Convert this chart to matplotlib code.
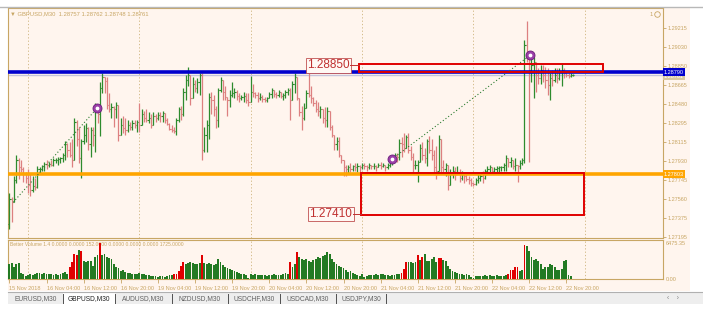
import matplotlib
matplotlib.use("Agg")
import matplotlib.pyplot as plt
import matplotlib.transforms as mtransforms
from matplotlib.patches import Rectangle
import numpy as np

# GBPUSD M30, 15 Nov 20:00 .. 22 Nov 21:30 (one entry per bar)
highs = [1.2762, 1.2758, 1.2778, 1.2799, 1.2796, 1.2794, 1.2787, 1.2782, 1.2785, 1.2780,
         1.2778, 1.2777, 1.2788, 1.2787, 1.2789, 1.2792, 1.2794, 1.2792, 1.2794, 1.2796,
         1.2796, 1.2797, 1.2797, 1.2801, 1.2812, 1.2810, 1.2811, 1.2814, 1.2835, 1.2833,
         1.2826, 1.2814, 1.2828, 1.2830, 1.2826, 1.2826, 1.2826, 1.2849, 1.2846, 1.2869,
         1.2878, 1.2874, 1.2874, 1.2859, 1.2849, 1.2846, 1.2850, 1.2847, 1.2835, 1.2836,
         1.2835, 1.2833, 1.2831, 1.2833, 1.2833, 1.2833, 1.2849, 1.2843, 1.2841, 1.2843,
         1.2840, 1.2838, 1.2840, 1.2838, 1.2840, 1.2840, 1.2841, 1.2839, 1.2835, 1.2830,
         1.2828, 1.2826, 1.2835, 1.2845, 1.2846, 1.2864, 1.2876, 1.2884, 1.2876, 1.2874,
         1.2871, 1.2873, 1.2878, 1.2878, 1.2826, 1.2833, 1.2859, 1.2860, 1.2857, 1.2846,
         1.2864, 1.2874, 1.2871, 1.2865, 1.2855, 1.2862, 1.2869, 1.2864, 1.2862, 1.2859,
         1.2857, 1.2860, 1.2859, 1.2859, 1.2875, 1.2867, 1.2860, 1.2860, 1.2859, 1.2857,
         1.2855, 1.2855, 1.2860, 1.2864, 1.2862, 1.2860, 1.2862, 1.2860, 1.2859, 1.2862,
         1.2864, 1.2864, 1.2870, 1.2878, 1.2874, 1.2854, 1.2846, 1.2849, 1.2862, 1.2878,
         1.2865, 1.2855, 1.2852, 1.2850, 1.2846, 1.2843, 1.2845, 1.2845, 1.2841, 1.2828,
         1.2818, 1.2816, 1.2816, 1.2799, 1.2794, 1.2789, 1.2789, 1.2791, 1.2789, 1.2791,
         1.2791, 1.2789, 1.2791, 1.2791, 1.2789, 1.2791, 1.2789, 1.2791, 1.2789, 1.2791,
         1.2792, 1.2791, 1.2789, 1.2791, 1.2794, 1.2796, 1.2801, 1.2801, 1.2814, 1.2816,
         1.2820, 1.2818, 1.2820, 1.2807, 1.2801, 1.2794, 1.2794, 1.2809, 1.2811, 1.2806,
         1.2814, 1.2817, 1.2814, 1.2804, 1.2807, 1.2818, 1.2814, 1.2794, 1.2791, 1.2789,
         1.2785, 1.2788, 1.2787, 1.2788, 1.2785, 1.2783, 1.2780, 1.2780, 1.2778, 1.2777,
         1.2773, 1.2777, 1.2780, 1.2780, 1.2783, 1.2785, 1.2788, 1.2789, 1.2787, 1.2787,
         1.2788, 1.2788, 1.2788, 1.2791, 1.2799, 1.2796, 1.2797, 1.2794, 1.2796, 1.2789,
         1.2794, 1.2796, 1.2910, 1.2928, 1.2896, 1.2896, 1.2894, 1.2889, 1.2883, 1.2886,
         1.2886, 1.2884, 1.2883, 1.2878, 1.2881, 1.2883, 1.2883, 1.2883, 1.2888, 1.2883,
         1.2879, 1.2878, 1.2878, 1.2877]
lows = [1.2727, 1.2734, 1.2753, 1.2772, 1.2776, 1.2782, 1.2773, 1.2772, 1.2762, 1.2759,
        1.2763, 1.2765, 1.2767, 1.2780, 1.2783, 1.2783, 1.2785, 1.2787, 1.2788, 1.2788,
        1.2791, 1.2789, 1.2791, 1.2792, 1.2794, 1.2797, 1.2797, 1.2787, 1.2794, 1.2807,
        1.2791, 1.2777, 1.2809, 1.2811, 1.2804, 1.2797, 1.2807, 1.2802, 1.2830, 1.2817,
        1.2859, 1.2859, 1.2843, 1.2840, 1.2835, 1.2826, 1.2835, 1.2812, 1.2818, 1.2820,
        1.2818, 1.2821, 1.2823, 1.2823, 1.2825, 1.2821, 1.2821, 1.2828, 1.2831, 1.2831,
        1.2830, 1.2825, 1.2828, 1.2831, 1.2833, 1.2831, 1.2831, 1.2830, 1.2828, 1.2823,
        1.2821, 1.2820, 1.2818, 1.2831, 1.2833, 1.2836, 1.2852, 1.2865, 1.2847, 1.2854,
        1.2860, 1.2859, 1.2857, 1.2794, 1.2802, 1.2802, 1.2814, 1.2838, 1.2836, 1.2825,
        1.2826, 1.2860, 1.2852, 1.2852, 1.2836, 1.2845, 1.2855, 1.2854, 1.2852, 1.2850,
        1.2852, 1.2850, 1.2849, 1.2846, 1.2850, 1.2855, 1.2854, 1.2850, 1.2852, 1.2850,
        1.2850, 1.2850, 1.2854, 1.2854, 1.2855, 1.2854, 1.2855, 1.2854, 1.2852, 1.2854,
        1.2857, 1.2833, 1.2852, 1.2859, 1.2852, 1.2836, 1.2823, 1.2833, 1.2844, 1.2855,
        1.2849, 1.2846, 1.2840, 1.2836, 1.2835, 1.2830, 1.2826, 1.2826, 1.2823, 1.2816,
        1.2804, 1.2804, 1.2797, 1.2791, 1.2778, 1.2778, 1.2780, 1.2782, 1.2783, 1.2783,
        1.2782, 1.2782, 1.2785, 1.2785, 1.2783, 1.2785, 1.2785, 1.2785, 1.2783, 1.2787,
        1.2785, 1.2787, 1.2783, 1.2785, 1.2787, 1.2789, 1.2794, 1.2792, 1.2794, 1.2797,
        1.2802, 1.2806, 1.2801, 1.2794, 1.2782, 1.2785, 1.2773, 1.2792, 1.2794, 1.2791,
        1.2788, 1.2801, 1.2794, 1.2782, 1.2776, 1.2783, 1.2782, 1.2780, 1.2778, 1.2765,
        1.2770, 1.2777, 1.2775, 1.2780, 1.2773, 1.2775, 1.2772, 1.2774, 1.2771, 1.2769,
        1.2769, 1.2770, 1.2772, 1.2774, 1.2772, 1.2776, 1.2780, 1.2782, 1.2780, 1.2780,
        1.2782, 1.2782, 1.2783, 1.2783, 1.2783, 1.2787, 1.2787, 1.2785, 1.2783, 1.2773,
        1.2785, 1.2789, 1.2791, 1.2889, 1.2792, 1.2869, 1.2854, 1.2860, 1.2867, 1.2867,
        1.2869, 1.2864, 1.2857, 1.2852, 1.2865, 1.2869, 1.2868, 1.2871, 1.2865, 1.2873,
        1.2874, 1.2873, 1.2874, 1.2875]
closes = [1.2756, 1.2753, 1.2775, 1.2794, 1.2787, 1.2785, 1.2780, 1.2777, 1.2770, 1.2765,
          1.2769, 1.2768, 1.2785, 1.2785, 1.2788, 1.2790, 1.2789, 1.2790, 1.2789, 1.2794,
          1.2794, 1.2795, 1.2796, 1.2799, 1.2809, 1.2804, 1.2799, 1.2794, 1.2831, 1.2814,
          1.2796, 1.2812, 1.2818, 1.2825, 1.2809, 1.2823, 1.2818, 1.2845, 1.2838, 1.2864,
          1.2874, 1.2870, 1.2847, 1.2843, 1.2845, 1.2843, 1.2847, 1.2818, 1.2828, 1.2825,
          1.2823, 1.2828, 1.2826, 1.2830, 1.2828, 1.2831, 1.2828, 1.2838, 1.2835, 1.2833,
          1.2835, 1.2828, 1.2836, 1.2835, 1.2837, 1.2836, 1.2839, 1.2833, 1.2829, 1.2824,
          1.2823, 1.2822, 1.2833, 1.2843, 1.2838, 1.2860, 1.2871, 1.2876, 1.2854, 1.2867,
          1.2864, 1.2869, 1.2876, 1.2804, 1.2818, 1.2828, 1.2855, 1.2852, 1.2843, 1.2833,
          1.2862, 1.2871, 1.2860, 1.2855, 1.2852, 1.2857, 1.2859, 1.2860, 1.2856, 1.2854,
          1.2855, 1.2856, 1.2852, 1.2850, 1.2860, 1.2859, 1.2857, 1.2854, 1.2855, 1.2853,
          1.2852, 1.2854, 1.2858, 1.2862, 1.2858, 1.2857, 1.2860, 1.2856, 1.2857, 1.2860,
          1.2862, 1.2852, 1.2867, 1.2874, 1.2854, 1.2840, 1.2835, 1.2844, 1.2859, 1.2857,
          1.2854, 1.2849, 1.2843, 1.2841, 1.2843, 1.2835, 1.2833, 1.2841, 1.2826, 1.2818,
          1.2809, 1.2812, 1.2799, 1.2794, 1.2787, 1.2785, 1.2787, 1.2785, 1.2788, 1.2787,
          1.2788, 1.2787, 1.2789, 1.2788, 1.2787, 1.2789, 1.2788, 1.2788, 1.2787, 1.2789,
          1.2788, 1.2789, 1.2787, 1.2789, 1.2792, 1.2794, 1.2799, 1.2797, 1.2810, 1.2809,
          1.2806, 1.2816, 1.2804, 1.2797, 1.2789, 1.2789, 1.2792, 1.2806, 1.2799, 1.2796,
          1.2812, 1.2804, 1.2799, 1.2787, 1.2783, 1.2814, 1.2787, 1.2785, 1.2789, 1.2770,
          1.2780, 1.2783, 1.2780, 1.2782, 1.2777, 1.2780, 1.2778, 1.2776, 1.2775, 1.2772,
          1.2771, 1.2775, 1.2777, 1.2778, 1.2777, 1.2783, 1.2785, 1.2787, 1.2783, 1.2785,
          1.2786, 1.2787, 1.2787, 1.2789, 1.2796, 1.2792, 1.2794, 1.2788, 1.2789, 1.2788,
          1.2791, 1.2794, 1.2905, 1.2896, 1.2881, 1.2886, 1.2889, 1.2876, 1.2873, 1.2881,
          1.2876, 1.2871, 1.2866, 1.2873, 1.2871, 1.2876, 1.2873, 1.2879, 1.2881, 1.2878,
          1.2876, 1.2875, 1.2876, 1.2876]
first_open = 1.2732

volumes = [2720, 2900, 2220, 2720, 2830, 1170, 870, 560, 680, 870,
           740, 980, 1050, 1110, 980, 1050, 980, 870, 980, 800,
           870, 680, 870, 1050, 1350, 980, 2090, 3020, 4570, 4260,
           5180, 5000, 3200, 3020, 3330, 3200, 2410, 3940, 4260, 6475,
           4260, 4570, 3940, 3830, 3640, 2720, 2220, 1980, 1480, 1610,
           1350, 1170, 1050, 980, 870, 870, 1170, 870, 980, 680,
           740, 610, 560, 610, 430, 560, 610, 430, 610, 680,
           800, 870, 980, 1480, 2410, 3020, 2720, 2900, 3020, 2830,
           2720, 2720, 2830, 4260, 2830, 2720, 2900, 2720, 2530, 2720,
           3640, 3020, 2530, 2220, 1980, 1790, 1610, 1480, 1350, 1170,
           980, 870, 680, 130, 980, 680, 870, 740, 800, 680,
           740, 610, 740, 680, 870, 680, 740, 680, 870, 1170,
           980, 3020, 2220, 2720, 4870, 3940, 3640, 3460, 3640, 3330,
           3020, 3460, 3640, 3940, 3830, 4070, 4260, 4870, 4440, 3640,
           3020, 2720, 2410, 2090, 1980, 1610, 1350, 1480, 1170, 870,
           680, 560, 870, 310, 560, 680, 740, 740, 870, 680,
           980, 870, 740, 680, 560, 680, 680, 870, 980, 1170,
           1790, 3020, 3020, 3150, 2900, 3020, 4260, 3460, 3940, 4440,
           3330, 3200, 3640, 3940, 3020, 3830, 3830, 3460, 3200, 2410,
           1790, 1480, 1350, 1170, 980, 870, 740, 870, 680, 370,
           240, 560, 610, 560, 610, 680, 610, 680, 560, 610,
           680, 560, 610, 560, 680, 870, 1610, 1610, 2090, 2220,
           1480, 1610, 6100, 5920, 5050, 3940, 3460, 3640, 3330, 2720,
           1790, 2090, 2220, 2720, 2530, 2090, 1610, 1610, 1790, 3330,
           3460, 680, 560, 60]
climax_bars = [26, 27, 28, 29, 31, 39, 71, 72, 73, 74, 75, 83, 121, 124,
               169, 170, 171, 176, 178, 185, 186, 215, 216, 217, 218, 219, 222]

price_ticks = [1.29215, 1.29030, 1.28850, 1.28665, 1.28480, 1.28295,
               1.28115, 1.27930, 1.27745, 1.27560, 1.27375, 1.27195]
time_pos = [0, 16, 32, 48, 64, 80, 96, 112, 128, 144, 160, 176, 192, 208, 224, 240]
time_labels = ["15 Nov 2018", "16 Nov 04:00", "16 Nov 12:00", "16 Nov 20:00",
               "19 Nov 04:00", "19 Nov 12:00", "19 Nov 20:00", "20 Nov 04:00",
               "20 Nov 12:00", "20 Nov 20:00", "21 Nov 04:00", "21 Nov 12:00",
               "21 Nov 20:00", "22 Nov 04:00", "22 Nov 12:00", "22 Nov 20:00"]
day_starts = [8, 56, 104, 152, 200, 248]

resistance = 1.28790
support = 1.27803
bid = 1.28761
zone_top = [150.7, 255.9, 1.28790, 1.28870]     # bar from, bar to, low, high
zone_bottom = [151.7, 247.8, 1.27410, 1.27815]
level_labels = ["1.28850", "1.27410"]
level_label_pos = [(137.5, 1.28857), (138.6, 1.27417)]
arrow_bars = [37.8, 165.0, 224.3]
arrow_prices = [1.2844, 1.2795, 1.2895]
trend1 = ([1.6, 37.8], [1.2753, 1.2844])
trend2 = ([165.0, 224.3], [1.2795, 1.2895])

tabs = ["EURUSD,M30", "GBPUSD,M30", "AUDUSD,M30", "NZDUSD,M30",
        "USDCHF,M30", "USDCAD,M30", "USDJPY,M30"]

W, H = 703, 316
TAN = '#c8a664'
BG = '#fff5ee'


def fx(x):
    return x / W


def fy(y):
    return 1 - y / H


plt.rcParams['font.family'] = ['Liberation Sans', 'DejaVu Sans']
fig = plt.figure(figsize=(W / 100, H / 100), dpi=100)
fig.patch.set_facecolor('white')
fig.patches.append(Rectangle((fx(8), fy(291)), fx(682), 284 / H, transform=fig.transFigure,
                             facecolor=BG, edgecolor='none', zorder=-10))
fig.add_artist(plt.Line2D([0, 1], [fy(7), fy(7)], color='#b8b8b8', lw=1.0))

ax = fig.add_axes([fx(8), fy(238), fx(655), 230 / H])
axv = fig.add_axes([fx(8), fy(279), fx(655), 39 / H], sharex=ax)
for a in (ax, axv):
    a.set_facecolor(BG)
    for s in a.spines.values():
        s.set_color(TAN)
        s.set_linewidth(0.8)
    for d in day_starts:
        a.axvline(d, color='#cdb27a', lw=0.6, ls=(0, (1.5, 2.5)), zorder=1)

idx = np.arange(len(closes))
opens = [first_open] + closes[:-1]
cols = ['#2e8b2e' if c >= o else '#dd8080' for o, c in zip(opens, closes)]
ax.vlines(idx, lows, highs, colors=cols, lw=0.9, zorder=3)
ax.hlines(opens, idx - 0.5, idx, colors=cols, lw=0.8, zorder=3)
ax.hlines(closes, idx, idx + 0.5, colors=cols, lw=0.8, zorder=3)

ax.axhline(bid, color='#c4c4dc', lw=1.0, zorder=2)
ax.axhline(resistance, color='#0000cd', lw=2.6, zorder=4)
ax.axhline(support, color='#ffa500', lw=2.6, zorder=4)

for x0, x1, lo, hi in (zone_top, zone_bottom):
    ax.add_patch(Rectangle((x0, lo), x1 - x0, hi - lo, fill=False,
                           edgecolor='#e00000', lw=1.4, zorder=5))
for txt, (tx, ty), x0 in zip(level_labels, level_label_pos, (zone_top[0], zone_bottom[0])):
    ax.text(tx, ty, txt, fontsize=8.5, color='#c03030', ha='center', va='center', zorder=6,
            bbox=dict(boxstyle='square,pad=0.12', fc='#fff8f4', ec='#c05050', lw=0.6))
    ax.plot([tx + 9.3, x0], [ty, ty], color='#c03030', lw=0.7, zorder=6)

ax.plot(*trend1, color='#2e7d32', lw=0.8, ls=(0, (1, 2)), zorder=4)
ax.plot(*trend2, color='#2e7d32', lw=0.8, ls=(0, (1, 2)), zorder=4)
ax.scatter(arrow_bars, arrow_prices, s=42, color='#9b3fa8', edgecolors='#6a1b7a',
           linewidths=0.6, zorder=7)
ax.scatter(arrow_bars, arrow_prices, s=3, color='white', zorder=8)

ax.set_xlim(-0.6, 281.7)
ax.set_ylim(1.27185, 1.29409)
ax.yaxis.tick_right()
ax.set_yticks(price_ticks)
ax.set_yticklabels([f"{p:.5f}" for p in price_ticks])
ax.tick_params(axis='y', labelsize=4, colors=TAN, length=2, width=0.6, pad=1.5)
ax.tick_params(axis='x', bottom=False, labelbottom=False)

blend = mtransforms.blended_transform_factory(ax.transAxes, ax.transData)
for val, fc, dy in ((bid, '#d8c8a0', -0.00012), (resistance, '#0000cd', 0), (support, '#ffa500', 0)):
    ax.text(1.0015, val + dy, f"{val:.5f}", transform=blend, fontsize=4, color='white',
            va='center', ha='left', zorder=9, clip_on=False,
            bbox=dict(boxstyle='square,pad=0.2', fc=fc, ec='none'))

vcols = ['#e00000' if i in climax_bars else '#237a23' for i in idx]
axv.bar(idx, volumes, width=0.8, color=vcols, edgecolor='none', zorder=3)
axv.set_ylim(0, 7020)
axv.yaxis.tick_right()
axv.set_yticks([6475.35, 0])
axv.set_yticklabels(["6475.35", "0.00"])
axv.tick_params(axis='y', labelsize=4, colors=TAN, length=0, pad=2)
axv.set_xticks(time_pos)
axv.set_xticklabels(time_labels, ha='left')
axv.tick_params(axis='x', labelsize=4, colors=TAN, length=3, width=0.6, pad=2)

fig.text(fx(10), fy(14), "\u25bc GBPUSD,M30  1.28757 1.28762 1.28748 1.28761",
         fontsize=4.2, color=TAN, va='center')
axv.text(0.003, 0.88, "Better Volume 1.4 0.0000 0.0000 152.0000 0.0000 0.0000 0.0000 1725.0000",
         transform=axv.transAxes, fontsize=3.6, color=TAN, va='center', zorder=2)
fig.text(fx(650), fy(14), "1", fontsize=4.2, color=TAN, va='center')
fig.add_artist(plt.Line2D([fx(657)], [fy(14)], marker='o', ms=4, mfc='none', mec=TAN, mew=0.6))

# symbol tabs
fig.patches.append(Rectangle((fx(8), fy(304)), fx(695), 11 / H, transform=fig.transFigure,
                             facecolor='#eeeeee', edgecolor='none', zorder=-5))
fig.add_artist(plt.Line2D([fx(8), 1], [fy(292), fy(292)], color='#b0b0b0', lw=0.8))
tab_x = [8, 63, 115, 172, 228, 280, 336, 386]
fig.patches.append(Rectangle((fx(63), fy(304)), fx(52), 11 / H, transform=fig.transFigure,
                             facecolor='white', edgecolor='none', zorder=-4))
for k, name in enumerate(tabs):
    fig.text(fx((tab_x[k] + tab_x[k + 1]) / 2), fy(298.5), name, fontsize=4.8,
             color='#202020' if k == 1 else '#606060', ha='center', va='center')
for sx in tab_x[1:]:
    fig.add_artist(plt.Line2D([fx(sx), fx(sx)], [fy(294), fy(303)], color='#505050', lw=0.7))
fig.text(fx(667), fy(298.5), "\u2039    \u203a", fontsize=4.8, color='#808080', va='center')

fig.savefig("out.png", dpi=100, facecolor=fig.get_facecolor())
